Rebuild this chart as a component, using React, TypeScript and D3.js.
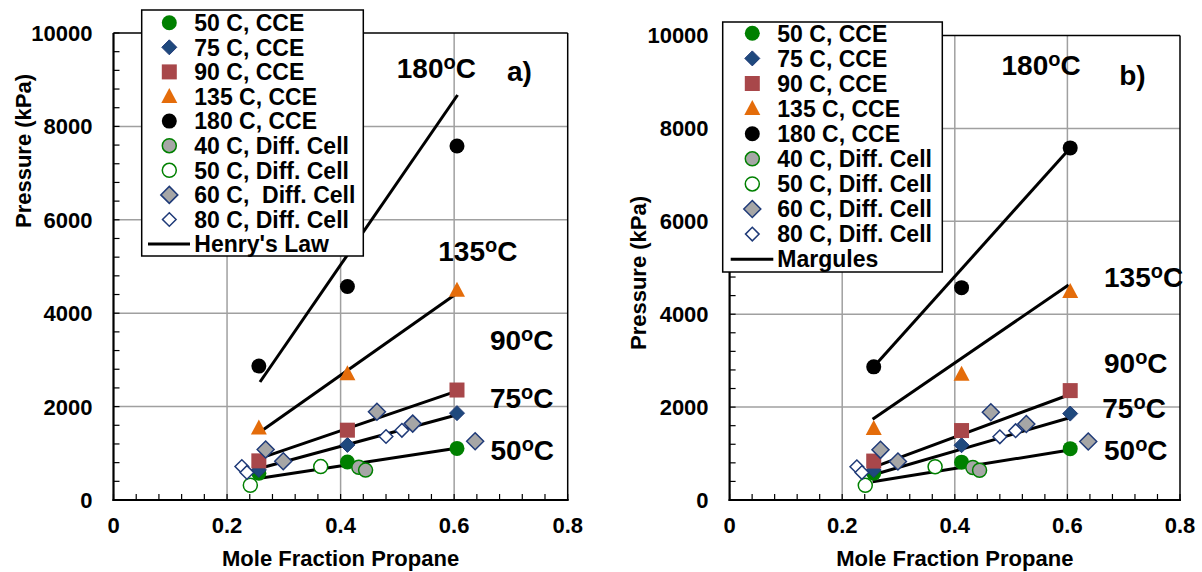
import React from "react";
import * as d3 from "d3";

// ---------- data ----------
const xCCE = [0.256, 0.412, 0.605];
const cce50 = [575, 815, 1105];
const cce75 = [645, 1180, 1860];
const cce90 = [838, 1495, 2355];
const cce135 = [1540, 2705, 4490];
const cce180 = [2867, 4572, 7580];

const x40Diff = [0.432, 0.444];
const p40Diff = [700, 640];
const x50Diff = [0.241, 0.365];
const p50Diff = [315, 715];
const x60Diff = [0.268, 0.299, 0.464, 0.527, 0.637];
const p60Diff = [1080, 830, 1890, 1636, 1259];
const x80Diff = [0.226, 0.235, 0.48, 0.508];
const p80Diff = [716, 590, 1360, 1492];

// model lines: [start, end] for 50, 75, 90, 135, 180 C
const henryX = [[0.258, 0.604], [0.258, 0.604], [0.263, 0.598], [0.263, 0.605], [0.258, 0.606]];
const henryP = [[465, 1107], [679, 1820], [914, 2306], [1499, 4426], [2527, 8672]];
const margX = [[0.254, 0.604], [0.254, 0.604], [0.255, 0.602], [0.254, 0.602], [0.256, 0.605]];
const margP = [[394, 1076], [538, 1772], [704, 2260], [1737, 4629], [2867, 7580]];

const legendLabelsA = ["50 C, CCE", "75 C, CCE", "90 C, CCE", "135 C, CCE", "180 C, CCE", "40 C, Diff. Cell", "50 C, Diff. Cell", "60 C,  Diff. Cell", "80 C, Diff. Cell", "Henry's Law"];
const legendLabelsB = ["50 C, CCE", "75 C, CCE", "90 C, CCE", "135 C, CCE", "180 C, CCE", "40 C, Diff. Cell", "50 C, Diff. Cell", "60 C, Diff. Cell", "80 C, Diff. Cell", "Margules"];

const tempLabels = ["180", "135", "90", "75", "50"];
// annotation positions in data units (x, pressure)
const annXA = [0.499, 0.572, 0.663, 0.663, 0.664];
const annPA = [9036, 5124, 3212, 1964, 857];
const annXB = [0.483, 0.665, 0.665, 0.662, 0.665];
const annPB = [9150, 4592, 2734, 1765, 861];

const xTicks = [0, 0.2, 0.4, 0.6, 0.8];
const yTicks = [0, 2000, 4000, 6000, 8000, 10000];
const xTickLabels = ["0", "0.2", "0.4", "0.6", "0.8"];

const FONT = "'Liberation Sans', Arial, Helvetica, sans-serif";

// ---------- markers ----------
const GREEN = "#008000";
const NAVY = "#1F497D";
const NAVY_EDGE = "#1F3A78";
const BROWN = "#A8474A";
const ORANGE = "#E46C0A";
const GRAY = "#A6A6A6";

type MarkerKind = "gcirc" | "ndiam" | "square" | "tri" | "bcirc" | "graycirc" | "opencirc" | "graydiam" | "opendiam";

function Marker({ kind, cx, cy }: { kind: MarkerKind; cx: number; cy: number }) {
  const diamond = (h: number) => `M${cx},${cy - h}L${cx + h},${cy}L${cx},${cy + h}L${cx - h},${cy}Z`;
  switch (kind) {
    case "gcirc":
      return <circle cx={cx} cy={cy} r={7.5} fill={GREEN} />;
    case "bcirc":
      return <circle cx={cx} cy={cy} r={7.5} fill="#000" />;
    case "ndiam":
      return <path d={diamond(7.5)} fill={NAVY} stroke={NAVY_EDGE} strokeWidth={1} />;
    case "square":
      return <rect x={cx - 7.5} y={cy - 7.5} width={15} height={15} fill={BROWN} />;
    case "tri":
      return <path d={`M${cx},${cy - 8.5}L${cx + 8},${cy + 6.5}L${cx - 8},${cy + 6.5}Z`} fill={ORANGE} />;
    case "graycirc":
      return <circle cx={cx} cy={cy} r={7} fill={GRAY} stroke={GREEN} strokeWidth={1.5} />;
    case "opencirc":
      return <circle cx={cx} cy={cy} r={7} fill="#fff" stroke={GREEN} strokeWidth={1.5} />;
    case "graydiam":
      return <path d={diamond(8.5)} fill={GRAY} stroke={NAVY_EDGE} strokeWidth={1.5} />;
    case "opendiam":
      return <path d={diamond(6.8)} fill="#fff" stroke={NAVY_EDGE} strokeWidth={1.5} />;
  }
  return null;
}

const seriesKinds: MarkerKind[] = ["gcirc", "ndiam", "square", "tri", "bcirc", "graycirc", "opencirc", "graydiam", "opendiam"];
const seriesX = [xCCE, xCCE, xCCE, xCCE, xCCE, x40Diff, x50Diff, x60Diff, x80Diff];
const seriesP = [cce50, cce75, cce90, cce135, cce180, p40Diff, p50Diff, p60Diff, p80Diff];

interface PanelProps {
  left: number;
  right: number;
  top: number;
  bottom: number;
  lineX: number[][];
  lineP: number[][];
  legendLabels: string[];
  legendBox: [number, number, number, number];
  legendMarkerX: number;
  legendTextX: number;
  legendRow0: number;
  legendStep: number;
  legendLine: [number, number];
  annX: number[];
  annP: number[];
  tag: string;
  tagX: number;
  tagP: number;
  yTitleX: number;
  yTitleY: number;
}

function Panel(p: PanelProps) {
  const x = d3.scaleLinear().domain([0, 0.8]).range([p.left, p.right]);
  const y = d3.scaleLinear().domain([0, 10000]).range([p.bottom, p.top]);
  const minorX = d3.range(0, 0.8001, 0.04);
  const minorY = d3.range(0, 10001, 400);
  const line = d3.line<[number, number]>().x((d) => x(d[0])).y((d) => y(d[1]));
  const [lx0, ly0, lx1, ly1] = p.legendBox;
  return (
    <g fontFamily={FONT} fontWeight="bold">
      {/* gridlines */}
      {xTicks.slice(1, -1).map((t) => (
        <line key={"gx" + t} x1={x(t)} x2={x(t)} y1={p.top} y2={p.bottom} stroke="#A0A0A0" strokeWidth={1.5} />
      ))}
      {yTicks.slice(1, -1).map((t) => (
        <line key={"gy" + t} x1={p.left} x2={p.right} y1={y(t)} y2={y(t)} stroke="#A0A0A0" strokeWidth={1.5} />
      ))}
      {/* minor ticks */}
      {minorX.map((t, i) => (
        <line key={"mx" + i} x1={x(t)} x2={x(t)} y1={p.bottom} y2={p.bottom - 6} stroke="#000" strokeWidth={1.2} />
      ))}
      {minorY.map((t, i) => (
        <line key={"my" + i} x1={p.left} x2={p.left + 6} y1={y(t)} y2={y(t)} stroke="#000" strokeWidth={1.2} />
      ))}
      {/* frame */}
      <line x1={p.left} x2={p.right} y1={p.top} y2={p.top} stroke="#000" strokeWidth={1.5} />
      <line x1={p.right} x2={p.right} y1={p.top} y2={p.bottom} stroke="#000" strokeWidth={1.5} />
      <line x1={p.left} x2={p.left} y1={p.top} y2={p.bottom + 1} stroke="#000" strokeWidth={2.2} />
      <line x1={p.left - 1} x2={p.right + 1} y1={p.bottom} y2={p.bottom} stroke="#000" strokeWidth={2.2} />
      {/* tick labels */}
      {xTicks.map((t, i) => (
        <text key={"xt" + t} x={x(t)} y={p.bottom + 33} fontSize={22} textAnchor="middle">
          {xTickLabels[i]}
        </text>
      ))}
      {yTicks.map((t) => (
        <text key={"yt" + t} x={p.left - 21} y={y(t)} dy="0.36em" fontSize={22} textAnchor="end">
          {String(t)}
        </text>
      ))}
      {/* axis titles */}
      <text x={(p.left + p.right) / 2} y={p.bottom + 66} fontSize={22} textAnchor="middle">
        Mole Fraction Propane
      </text>
      <text
        transform={`translate(${p.yTitleX},${p.yTitleY}) rotate(-90)`}
        dy="0.36em"
        fontSize={22}
        textAnchor="middle"
      >
        Pressure (kPa)
      </text>
      {/* model lines */}
      {p.lineX.map((xs, i) => (
        <path
          key={"l" + i}
          d={line([[xs[0], p.lineP[i][0]], [xs[1], p.lineP[i][1]]]) || ""}
          fill="none"
          stroke="#000"
          strokeWidth={3}
        />
      ))}
      {/* markers */}
      {seriesKinds.map((k, si) =>
        seriesX[si].map((xv, j) => <Marker key={"m" + si + "_" + j} kind={k} cx={x(xv)} cy={y(seriesP[si][j])} />)
      )}
      {/* annotations */}
      {tempLabels.map((t, i) => (
        <text key={"a" + t} x={x(p.annX[i])} y={y(p.annP[i])} fontSize={28}>
          <tspan>{t}</tspan>
          <tspan fontSize={20} dy={-9}>o</tspan>
          <tspan dy={9}>C</tspan>
        </text>
      ))}
      <text x={x(p.tagX)} y={y(p.tagP)} fontSize={28}>
        {p.tag}
      </text>
      {/* legend */}
      <rect x={lx0} y={ly0} width={lx1 - lx0} height={ly1 - ly0} fill="#fff" stroke="#000" strokeWidth={1.5} />
      {p.legendLabels.map((lab, i) => {
        const cy = p.legendRow0 + i * p.legendStep;
        return (
          <g key={"lg" + i}>
            {i < seriesKinds.length ? (
              <Marker kind={seriesKinds[i]} cx={p.legendMarkerX} cy={cy} />
            ) : (
              <line x1={p.legendLine[0]} x2={p.legendLine[1]} y1={cy} y2={cy} stroke="#000" strokeWidth={3} />
            )}
            <text x={p.legendTextX} y={cy} dy="0.36em" fontSize={23} style={{ whiteSpace: "pre" }}>
              {lab}
            </text>
          </g>
        );
      })}
    </g>
  );
}

export default function App() {
  return (
    <svg
      width={1202}
      height={572}
      viewBox="0 0 1202 572"
      style={{ position: "absolute", left: 0, top: 0, background: "#fff" }}
    >
      <rect x={0} y={0} width={1202} height={572} fill="#fff" />
      <Panel
        left={113.5}
        right={567.7}
        top={33}
        bottom={500}
        lineX={henryX}
        lineP={henryP}
        legendLabels={legendLabelsA}
        legendBox={[141.7, 10, 363.3, 256]}
        legendMarkerX={169.3}
        legendTextX={194.3}
        legendRow0={22.7}
        legendStep={24.6}
        legendLine={[148, 190]}
        annX={annXA}
        annP={annPA}
        tag="a)"
        tagX={0.693}
        tagP={8972}
        yTitleX={23}
        yTitleY={151}
      />
      <Panel
        left={729.6}
        right={1180}
        top={35.5}
        bottom={500}
        lineX={margX}
        lineP={margP}
        legendLabels={legendLabelsB}
        legendBox={[722.7, 22, 942.3, 272]}
        legendMarkerX={752.3}
        legendTextX={777.3}
        legendRow0={33.3}
        legendStep={25.1}
        legendLine={[730.7, 773.3]}
        annX={annXB}
        annP={annPB}
        tag="b)"
        tagX={0.692}
        tagP={8934}
        yTitleX={638}
        yTitleY={273}
      />
    </svg>
  );
}
